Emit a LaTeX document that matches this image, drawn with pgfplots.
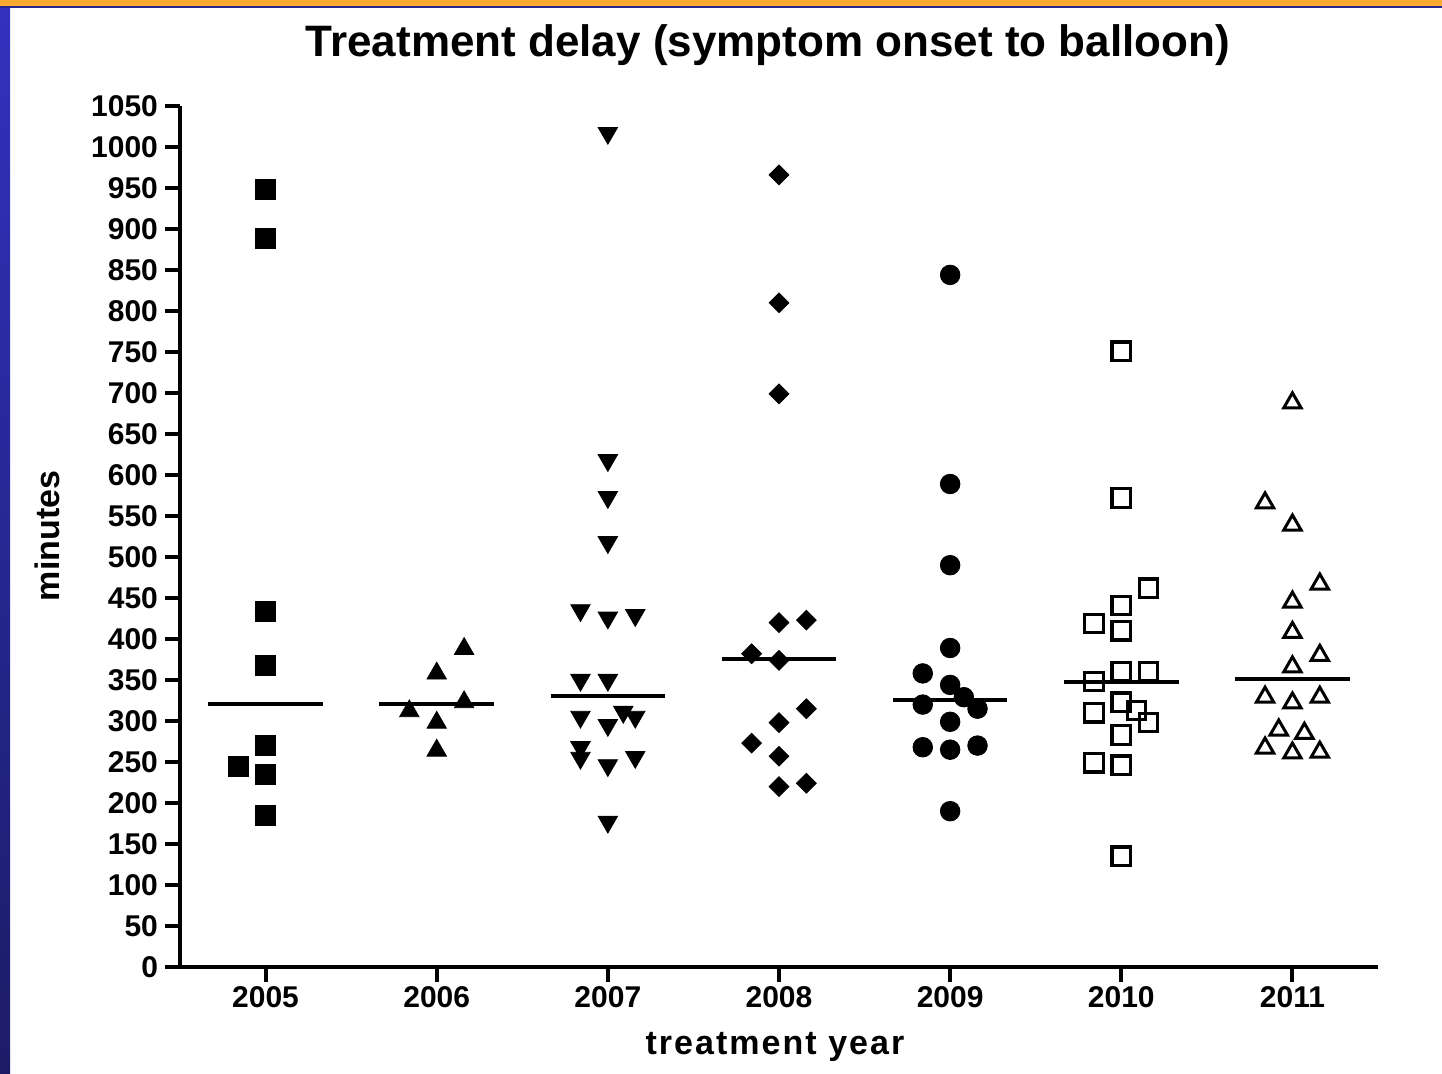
\documentclass[border=0pt]{standalone}
\usepackage{fontspec}
\setmainfont{Liberation Sans}
\usepackage{pgfplots}
\pgfplotsset{compat=1.18}
\definecolor{slideorange}{HTML}{FFAA33}
\definecolor{slidenavy}{HTML}{2A2A8C}
\definecolor{stripA}{HTML}{3232C0}
\definecolor{stripB}{HTML}{1C1C66}

\begin{document}
\begin{tikzpicture}
% slide background
\fill[white] (0pt,0pt) rectangle (721pt,537pt);
\path[use as bounding box] (0pt,0pt) rectangle (721pt,537pt);
\shade[top color=stripA,bottom color=stripB] (0pt,0pt) rectangle (5pt,537pt);
\fill[slideorange] (0pt,534pt) rectangle (721pt,537pt);
\fill[slidenavy] (0pt,533pt) rectangle (721pt,534pt);

\begin{axis}[
  at={(90pt,53.5pt)}, anchor=south west,
  scale only axis, width=599pt, height=430.5pt,
  xmin=-0.5, xmax=6.5, ymin=0, ymax=1050,
  axis lines=left,
  axis line style={line width=2.4pt,-},
  xtick={0,...,6},
  xticklabels={2005,2006,2007,2008,2009,2010,2011},
  ytick={0,50,...,1050},
  tick align=outside,
  major tick length=7.5pt,
  tick style={black,line width=2pt},
  tick label style={font=\bfseries\fontsize{15}{15}\selectfont},
  x tick label style={yshift=1.5pt},
  /pgf/number format/assume math mode=true,
  /pgf/number format/1000 sep={},
  clip=false,
]
% 2005
\addplot[only marks,mark=square*,mark size=5pt,fill=black,draw=black] coordinates {
(0,948) (0,889) (0,434) (0,368) (0,270) (-0.16,245) (0,235) (0,185)};
% 2006
\addplot[only marks,mark=triangle*,mark size=5.6pt,fill=black,draw=black] coordinates {
(1.16,388) (1,358) (1.16,323) (0.84,312) (1,298) (1,264)};
% 2007
\addplot[only marks,mark=triangle*,mark size=5.6pt,fill=black,draw=black,mark options={rotate=180}] coordinates {
(2,1017) (2,618) (2,573) (2,518) (1.84,435) (2,426) (2.16,429) (1.84,350) (2,350)
(1.84,305) (2.09,311) (2,295) (2.16,305) (1.84,268) (1.84,255) (2,246) (2.16,256) (2,177)};
% 2008
\addplot[only marks,mark=square*,mark size=3.5pt,fill=black,draw=black,mark options={rotate=45}] coordinates {
(3,966) (3,810) (3,699) (3,420) (3.16,423) (2.84,382) (3,374) (3.16,315) (3,298)
(2.84,273) (3,257) (3,220) (3.16,224)};
% 2009
\addplot[only marks,mark=*,mark size=4.9pt,fill=black,draw=black] coordinates {
(4,844) (4,589) (4,490) (4,389) (3.84,358) (4,344) (4.08,329) (3.84,320) (4.16,315)
(4,299) (3.84,268) (4,265) (4.16,270) (4,190)};
% 2010
\addplot[only marks,mark=square,mark size=4.6pt,draw=black,line width=1.6pt] coordinates {
(5,751) (5,572) (5.16,462) (5,441) (4.84,419) (5,410) (5,360) (5.16,360) (4.84,348)
(5,323) (5.09,313) (4.84,310) (5.16,298) (5,283) (4.84,249) (5,246) (5,135)};
% 2011
\addplot[only marks,mark=triangle,mark size=5pt,draw=black,line width=1.5pt] coordinates {
(6,688) (5.84,566) (6,539) (6.16,467) (6,445) (6,408) (6.16,380) (6,366) (5.84,329)
(6,322) (6.16,329) (5.92,289) (6.07,285) (5.84,267) (6,261) (6.16,262)};
% medians
\addplot[black,line width=2pt] coordinates {(-0.335,321) (0.335,321)};
\addplot[black,line width=2pt] coordinates {(0.665,321) (1.335,321)};
\addplot[black,line width=2pt] coordinates {(1.665,330) (2.335,330)};
\addplot[black,line width=2pt] coordinates {(2.665,375) (3.335,375)};
\addplot[black,line width=2pt] coordinates {(3.665,326) (4.335,326)};
\addplot[black,line width=2pt] coordinates {(4.665,348) (5.335,348)};
\addplot[black,line width=2pt] coordinates {(5.665,351) (6.335,351)};
\end{axis}

\node[anchor=base,font=\bfseries\fontsize{22}{22}\selectfont] at (384pt,508.5pt)
  {Treatment delay (symptom onset to balloon)};
\node[rotate=90,font=\bfseries\fontsize{17}{17}\selectfont] at (23.5pt,269pt) {minutes};
\node[anchor=base,font=\bfseries\fontsize{17}{17}\selectfont\addfontfeature{LetterSpace=6}] at (387.5pt,9.5pt)
  {treatment year};
\end{tikzpicture}
\end{document}
